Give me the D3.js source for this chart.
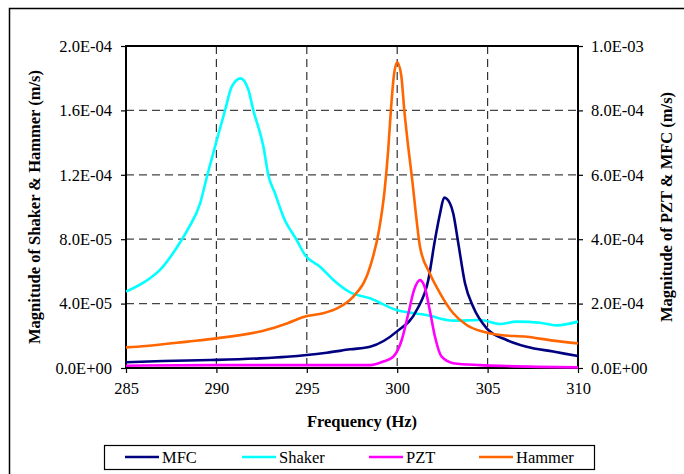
<!DOCTYPE html>
<html>
<head>
<meta charset="utf-8">
<title>Frequency response</title>
<script src="https://cdn.jsdelivr.net/npm/d3@7"></script>
<style>
body { margin: 0; background: #fff; }
svg text { font-family: "Liberation Serif", "Times New Roman", serif; }
</style>
</head>
<body>
<script>
// chart data: [frequency (Hz), magnitude (m/s)]
var shaker = [[285,4.74e-5],[286.05,5.36e-5],[286.88,6.09e-5],[287.9,7.64e-5],[288.45,8.67e-5],
  [289.1,1.023e-4],[289.5,1.199e-4],[290,1.406e-4],[290.48,1.602e-4],[290.85,1.747e-4],
  [291.34,1.799e-4],[291.77,1.727e-4],[292.04,1.602e-4],[292.6,1.375e-4],[292.87,1.199e-4],
  [293.24,1.085e-4],[293.7,9.4e-5],[294.44,7.95e-5],[294.9,7.02e-5],[295.73,6.29e-5],
  [296.47,5.47e-5],[297.4,4.7e-5],[298.5,4.33e-5],[299.97,3.6e-5],[301.63,3.29e-5],
  [303.1,2.94e-5],[304.58,2.98e-5],[305.7,2.73e-5],[306.6,2.88e-5],[307.9,2.81e-5],
  [308.82,2.65e-5],[310,2.88e-5]];
var hammer = [[285,1.28e-5],[286.1,1.37e-5],[288.4,1.64e-5],[290,1.84e-5],[292.6,2.32e-5],
  [293.9,2.77e-5],[295,3.23e-5],[295.9,3.4e-5],[296.75,3.75e-5],[297.5,4.35e-5],[298.5,6.29e-5],
  [299.0,8.6e-5],[299.3,1.1e-4],[299.5,1.35e-4],[299.65,1.6e-4],[299.82,1.82e-4],[300.0,1.899e-4],
  [300.22,1.82e-4],[300.4,1.592e-4],[300.62,1.364e-4],[300.85,1.15e-4],[301.05,9.4e-5],
  [301.26,7.53e-5],[301.8,5.88e-5],[302.37,4.64e-5],[303.1,3.4e-5],[303.84,2.67e-5],
  [304.76,2.25e-5],[305.7,2.05e-5],[307.16,1.94e-5],[308.63,1.7e-5],[310,1.53e-5]];
var mfc = [[285,1.77e-5],[287.06,2.17e-5],[289.65,2.48e-5],[292.4,3.0e-5],[293.9,3.5e-5],
  [295,4.04e-5],[296.1,4.75e-5],[297.4,5.8e-5],[298.5,6.6e-5],[299.97,1.13e-4],[301.08,1.8e-4],
  [301.72,2.73e-4],[302.09,3.98e-4],[302.37,4.8e-4],[302.6,5.29e-4],[302.92,5.11e-4],
  [303.1,4.8e-4],[303.38,3.87e-4],[303.75,2.63e-4],[304.2,1.9e-4],[304.95,1.23e-4],
  [306.05,8.7e-5],[307.16,6.6e-5],[308.63,5.1e-5],[310,3.7e-5]];
var pzt = [[285,7e-6],[290,9e-6],[295,9e-6],[296.84,9e-6],[298.5,9e-6],[299.23,2e-5],
  [299.78,3.5e-5],[300.25,8.7e-5],[300.62,1.7e-4],[300.93,2.42e-4],[301.26,2.73e-4],
  [301.54,2.48e-4],[301.8,1.8e-4],[302.09,9.7e-5],[302.46,3.5e-5],[303.1,1.5e-5],
  [304.58,9e-6],[306.05,6e-6],[310,2e-6]];

var xTicks = [285, 290, 295, 300, 305, 310];
var leftTicks = [0, 4e-5, 8e-5, 1.2e-4, 1.6e-4, 2e-4];
var leftLabels = ["0.0E+00", "4.0E-05", "8.0E-05", "1.2E-04", "1.6E-04", "2.0E-04"];
var rightTicks = [0, 2e-4, 4e-4, 6e-4, 8e-4, 1e-3];
var rightLabels = ["0.0E+00", "2.0E-04", "4.0E-04", "6.0E-04", "8.0E-04", "1.0E-03"];
var legendNames = ["MFC", "Shaker", "PZT", "Hammer"];

var width = 684, height = 474;
var plotLeft = 126, plotRight = 578, plotTop = 46, plotBottom = 368;
var serif = "'Liberation Serif', 'Times New Roman', serif";

var svg = d3.select("body").append("svg")
  .attr("width", width)
  .attr("height", height)
  .attr("font-family", serif);

// outer frame
svg.append("rect")
  .attr("x", 9.5).attr("y", 8.5)
  .attr("width", 700).attr("height", 500)
  .attr("fill", "none").attr("stroke", "#000").attr("stroke-width", 1.5);

var x = d3.scaleLinear().domain([285, 310]).range([plotLeft, plotRight]);
var yL = d3.scaleLinear().domain([0, 2e-4]).range([plotBottom, plotTop]);
var yR = d3.scaleLinear().domain([0, 1e-3]).range([plotBottom, plotTop]);

// grid
svg.append("g").selectAll("line").data(leftTicks.slice(1, -1)).join("line")
  .attr("x1", plotLeft).attr("x2", plotRight)
  .attr("y1", function(d){ return yL(d); }).attr("y2", function(d){ return yL(d); })
  .attr("stroke", "#444").attr("stroke-width", 1.2).attr("stroke-dasharray", "8,5");
svg.append("g").selectAll("line").data(xTicks.slice(1, -1)).join("line")
  .attr("x1", function(d){ return x(d); }).attr("x2", function(d){ return x(d); })
  .attr("y1", plotTop).attr("y2", plotBottom)
  .attr("stroke", "#333").attr("stroke-width", 1.2).attr("stroke-dasharray", "8,5");

// axes
var xAxis = svg.append("g").attr("transform", "translate(0," + plotBottom + ")")
  .call(d3.axisBottom(x).tickValues(xTicks).tickSize(5).tickPadding(9).tickFormat(d3.format("d")));
var lAxis = svg.append("g").attr("transform", "translate(" + plotLeft + ",0)")
  .call(d3.axisLeft(yL).tickValues(leftTicks).tickSize(5).tickPadding(9)
    .tickFormat(function(d, i){ return leftLabels[i]; }));
var rAxis = svg.append("g").attr("transform", "translate(" + plotRight + ",0)")
  .call(d3.axisRight(yR).tickValues(rightTicks).tickSize(5).tickPadding(8)
    .tickFormat(function(d, i){ return rightLabels[i]; }));
[xAxis, lAxis, rAxis].forEach(function(a){
  a.attr("font-family", serif).attr("font-size", 16.5);
  a.select(".domain").remove();
  a.selectAll("line").attr("stroke", "#000").attr("stroke-width", 1.2);
  a.selectAll("text").attr("fill", "#000");
});

// plot frame
svg.append("rect")
  .attr("x", plotLeft).attr("y", plotTop)
  .attr("width", plotRight - plotLeft).attr("height", plotBottom - plotTop)
  .attr("fill", "none").attr("stroke", "#000").attr("stroke-width", 2);

// series
function draw(data, yScale, color) {
  var line = d3.line()
    .x(function(d){ return x(d[0]); })
    .y(function(d){ return yScale(d[1]); })
    .curve(d3.curveMonotoneX);
  svg.append("path").datum(data)
    .attr("d", line)
    .attr("fill", "none").attr("stroke", color)
    .attr("stroke-width", 2.6).attr("stroke-linejoin", "round");
}
var colors = { MFC: "#000080", Shaker: "#00FFFF", PZT: "#FF00FF", Hammer: "#FF6600" };
draw(shaker, yL, colors.Shaker);
draw(mfc, yR, colors.MFC);
draw(pzt, yR, colors.PZT);
draw(hammer, yL, colors.Hammer);

// titles
svg.append("text")
  .attr("x", (plotLeft + plotRight) / 2 + 10).attr("y", 427)
  .attr("text-anchor", "middle").attr("font-weight", "bold").attr("font-size", 16.5)
  .text("Frequency (Hz)");
svg.append("text")
  .attr("transform", "translate(40," + (plotTop + plotBottom) / 2 + ") rotate(-90)")
  .attr("text-anchor", "middle").attr("font-weight", "bold").attr("font-size", 16.5)
  .text("Magnitude of Shaker & Hammer (m/s)");
svg.append("text")
  .attr("transform", "translate(672," + (plotTop + plotBottom) / 2 + ") rotate(-90)")
  .attr("text-anchor", "middle").attr("font-weight", "bold").attr("font-size", 16.5)
  .text("Magnitude of PZT & MFC (m/s)");

// legend
svg.append("rect")
  .attr("x", 104.5).attr("y", 445.5).attr("width", 490).attr("height", 24)
  .attr("fill", "#fff").attr("stroke", "#000").attr("stroke-width", 1.2);
var legendX = [125, 242, 369, 479];
var lg = svg.append("g").selectAll("g").data(legendNames).join("g")
  .attr("transform", function(d, i){ return "translate(" + legendX[i] + ",457)"; });
lg.append("line")
  .attr("x1", 0).attr("x2", 34).attr("y1", 0).attr("y2", 0)
  .attr("stroke", function(d){ return colors[d]; }).attr("stroke-width", 2.6);
lg.append("text")
  .attr("x", 37).attr("y", 6).attr("font-size", 16.5)
  .text(function(d){ return d; });
</script>
</body>
</html>
